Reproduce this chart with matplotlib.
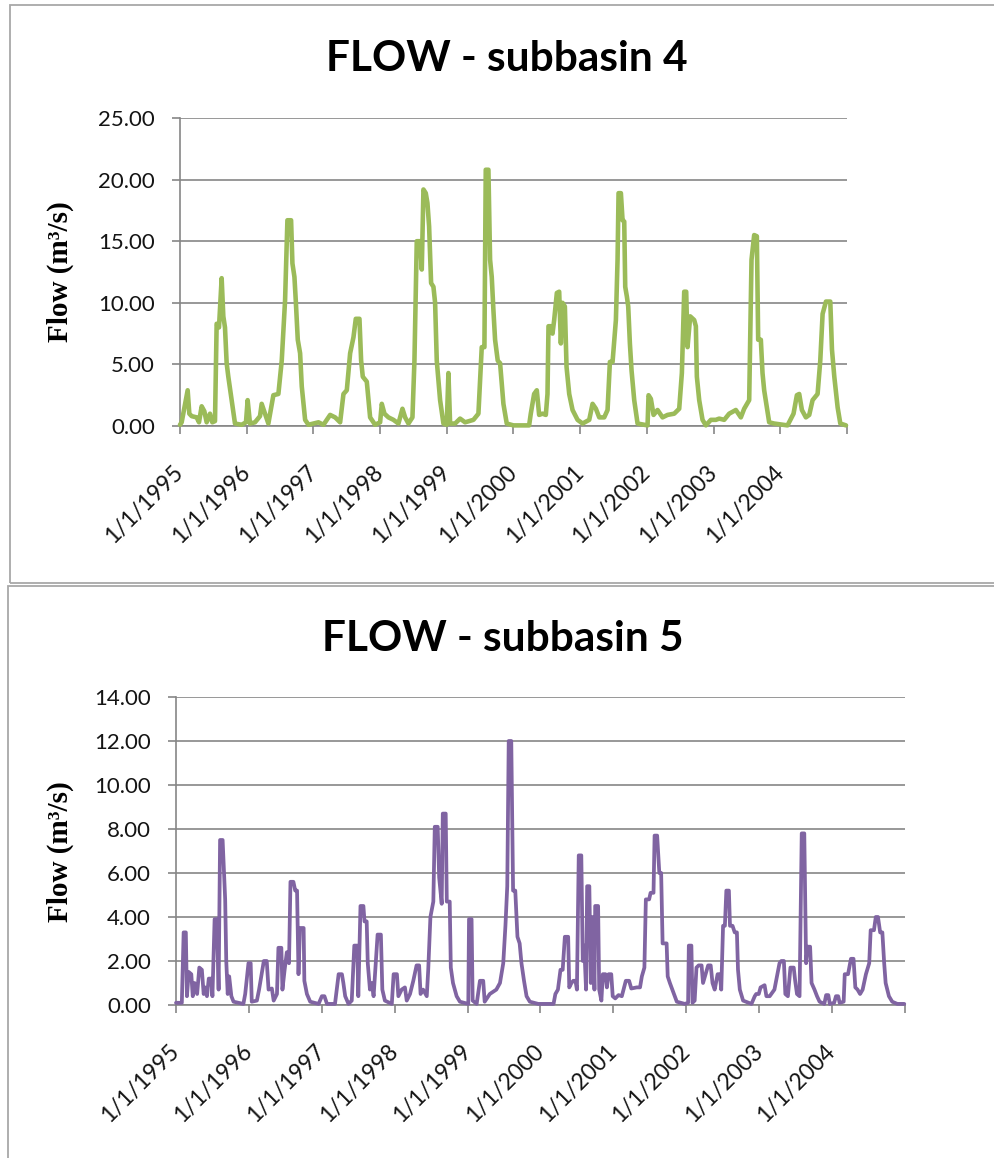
import numpy as np
import matplotlib
matplotlib.use("Agg")
import matplotlib.pyplot as plt
import matplotlib.dates as mdates
from matplotlib.ticker import FormatStrFormatter
from matplotlib.patches import Rectangle
from datetime import date

plt.rcParams["font.family"] = ["Lato", "DejaVu Sans"]

# ---- subbasin 4 flow (decimal year, m3/s) ----
t_sub4 = [
    1995.0, 1995.025, 1995.115, 1995.14, 1995.175, 1995.25, 1995.285, 1995.325, 1995.365,
    1995.40, 1995.45, 1995.485, 1995.525, 1995.55, 1995.585, 1995.625, 1995.65, 1995.675,
    1995.70, 1995.725, 1995.775, 1995.825, 1995.925, 1995.99, 1996.015, 1996.05, 1996.125,
    1996.20, 1996.225, 1996.275, 1996.325, 1996.40, 1996.475, 1996.525, 1996.575, 1996.61,
    1996.665, 1996.685, 1996.715, 1996.735, 1996.765, 1996.80, 1996.825, 1996.875, 1996.925,
    1997.075, 1997.15, 1997.25, 1997.325, 1997.40, 1997.45, 1997.50, 1997.55, 1997.60,
    1997.635, 1997.69, 1997.715, 1997.74, 1997.80, 1997.85, 1997.925, 1998.0, 1998.025,
    1998.065, 1998.125, 1998.20, 1998.275, 1998.335, 1998.375, 1998.425, 1998.485, 1998.515,
    1998.55, 1998.60, 1998.625, 1998.65, 1998.685, 1998.71, 1998.735, 1998.765, 1998.80,
    1998.825, 1998.85, 1998.90, 1998.95, 1999.0, 1999.025, 1999.05, 1999.125, 1999.20,
    1999.275, 1999.40, 1999.475, 1999.525, 1999.565, 1999.585, 1999.625, 1999.65, 1999.675,
    1999.70, 1999.725, 1999.765, 1999.80, 1999.85, 1999.90, 2000.0, 2000.235, 2000.26,
    2000.31, 2000.35, 2000.385, 2000.435, 2000.485, 2000.51, 2000.525, 2000.56, 2000.585,
    2000.61, 2000.65, 2000.685, 2000.71, 2000.735, 2000.77, 2000.795, 2000.835, 2000.885,
    2000.96, 2001.035, 2001.135, 2001.185, 2001.235, 2001.285, 2001.36, 2001.41, 2001.445,
    2001.485, 2001.535, 2001.56, 2001.575, 2001.61, 2001.635, 2001.66, 2001.675, 2001.70,
    2001.72, 2001.745, 2001.77, 2001.81, 2001.86, 2002.01, 2002.025, 2002.06, 2002.10,
    2002.16, 2002.235, 2002.31, 2002.41, 2002.485, 2002.525, 2002.56, 2002.59, 2002.61,
    2002.65, 2002.71, 2002.735, 2002.75, 2002.785, 2002.835, 2002.885, 2002.96, 2003.035,
    2003.085, 2003.16, 2003.235, 2003.335, 2003.41, 2003.46, 2003.535, 2003.57, 2003.61,
    2003.65, 2003.67, 2003.71, 2003.735, 2003.76, 2003.80, 2003.835, 2003.91, 2004.11,
    2004.20, 2004.25, 2004.285, 2004.325, 2004.385, 2004.435, 2004.485, 2004.56, 2004.60,
    2004.635, 2004.685, 2004.75, 2004.775, 2004.81, 2004.86, 2004.90, 2004.985,
]
q_sub4 = [
    0.1, 0.3, 2.9, 1.0, 0.8, 0.7, 0.3, 1.6, 1.2,
    0.3, 1.0, 0.3, 0.4, 8.3, 8.0, 12.0, 8.9, 8.0,
    5.1, 4.0, 2.1, 0.2, 0.1, 0.3, 2.1, 0.2, 0.3,
    0.8, 1.8, 1.0, 0.2, 2.5, 2.6, 5.3, 10.2, 16.7,
    16.7, 13.2, 12.1, 10.2, 7.0, 5.9, 3.2, 0.5, 0.1,
    0.3, 0.1, 0.9, 0.7, 0.3, 2.6, 2.9, 5.9, 7.2,
    8.7, 8.7, 5.3, 4.0, 3.6, 0.7, 0.1, 0.3, 1.8,
    1.0, 0.7, 0.5, 0.2, 1.4, 0.7, 0.2, 0.7, 5.3,
    15.0, 15.0, 12.7, 19.2, 18.9, 18.1, 16.2, 11.6, 11.3,
    10.0, 5.3, 2.1, 0.2, 0.1, 4.3, 0.2, 0.2, 0.6,
    0.3, 0.5, 1.0, 6.4, 6.4, 20.8, 20.8, 13.5, 12.1,
    9.4, 7.0, 5.3, 5.1, 1.8, 0.2, 0.05, 0.05, 1.0,
    2.6, 2.9, 0.9, 1.0, 0.9, 2.6, 8.1, 8.1, 7.5,
    8.6, 10.8, 10.9, 6.7, 10.0, 9.7, 4.8, 2.6, 1.3,
    0.5, 0.2, 0.5, 1.8, 1.4, 0.7, 0.7, 1.3, 5.2,
    5.2, 8.6, 13.5, 18.9, 18.9, 16.7, 16.6, 11.3, 10.5,
    9.7, 6.7, 4.5, 2.1, 0.2, 0.05, 2.5, 2.2, 0.9,
    1.3, 0.7, 0.9, 1.0, 1.4, 4.3, 10.9, 10.9, 6.4,
    8.9, 8.6, 8.1, 4.0, 2.1, 0.5, 0.05, 0.5, 0.5,
    0.6, 0.5, 1.0, 1.3, 0.7, 1.4, 2.1, 13.5, 15.5,
    15.4, 7.0, 7.0, 4.3, 2.9, 1.5, 0.3, 0.2, 0.05,
    1.0, 2.5, 2.6, 1.3, 0.7, 0.9, 2.1, 2.6, 5.3,
    9.1, 10.1, 10.1, 6.2, 4.0, 1.5, 0.2, 0.05,
]

# ---- subbasin 5 flow (decimal year, m3/s) ----
t_sub5 = [
    1995.0, 1995.08, 1995.105, 1995.135, 1995.15, 1995.175, 1995.21, 1995.23, 1995.255,
    1995.29, 1995.32, 1995.355, 1995.38, 1995.40, 1995.425, 1995.45, 1995.485, 1995.50,
    1995.53, 1995.56, 1995.585, 1995.605, 1995.64, 1995.675, 1995.69, 1995.71, 1995.73,
    1995.76, 1995.79, 1995.925, 1995.95, 1995.995, 1996.025, 1996.04, 1996.11, 1996.14,
    1996.205, 1996.245, 1996.27, 1996.315, 1996.34, 1996.385, 1996.405, 1996.445, 1996.46,
    1996.49, 1996.52, 1996.55, 1996.57, 1996.61, 1996.635, 1996.66, 1996.68, 1996.70,
    1996.75, 1996.76, 1996.795, 1996.84, 1996.955, 1997.00, 1997.035, 1997.07, 1997.18,
    1997.23, 1997.275, 1997.295, 1997.32, 1997.365, 1997.41, 1997.445, 1997.485, 1997.50,
    1997.53, 1997.57, 1997.585, 1997.615, 1997.63, 1997.66, 1997.685, 1997.71, 1997.765,
    1997.81, 1997.83, 1997.865, 1997.96, 1997.985, 1998.03, 1998.05, 1998.095, 1998.14,
    1998.165, 1998.21, 1998.255, 1998.30, 1998.335, 1998.355, 1998.39, 1998.44, 1998.46,
    1998.49, 1998.53, 1998.55, 1998.59, 1998.61, 1998.645, 1998.66, 1998.70, 1998.715,
    1998.755, 1998.77, 1998.80, 1998.85, 1998.895, 1999.01, 1999.02, 1999.055, 1999.07,
    1999.125, 1999.17, 1999.215, 1999.235, 1999.305, 1999.35, 1999.395, 1999.445, 1999.49,
    1999.52, 1999.545, 1999.565, 1999.60, 1999.625, 1999.655, 1999.685, 1999.715, 1999.74,
    1999.775, 1999.81, 1999.855, 1999.97, 2000.18, 2000.205, 2000.24, 2000.275, 2000.305,
    2000.335, 2000.38, 2000.395, 2000.425, 2000.45, 2000.48, 2000.50, 2000.525, 2000.56,
    2000.58, 2000.60, 2000.625, 2000.64, 2000.67, 2000.69, 2000.715, 2000.74, 2000.75,
    2000.79, 2000.805, 2000.835, 2000.855, 2000.89, 2000.91, 2000.935, 2000.97, 2000.99,
    2001.025, 2001.07, 2001.115, 2001.17, 2001.215, 2001.245, 2001.32, 2001.365, 2001.39,
    2001.425, 2001.445, 2001.49, 2001.51, 2001.55, 2001.565, 2001.60, 2001.63, 2001.655,
    2001.675, 2001.73, 2001.745, 2001.775, 2001.82, 2001.87, 2001.98, 2002.025, 2002.035,
    2002.07, 2002.085, 2002.115, 2002.14, 2002.17, 2002.21, 2002.23, 2002.265, 2002.30,
    2002.335, 2002.36, 2002.39, 2002.43, 2002.46, 2002.48, 2002.505, 2002.53, 2002.55,
    2002.585, 2002.60, 2002.635, 2002.665, 2002.695, 2002.71, 2002.735, 2002.78, 2002.895,
    2002.94, 2002.96, 2002.995, 2003.02, 2003.075, 2003.10, 2003.145, 2003.21, 2003.25,
    2003.28, 2003.305, 2003.34, 2003.36, 2003.395, 2003.43, 2003.475, 2003.495, 2003.52,
    2003.555, 2003.585, 2003.62, 2003.645, 2003.665, 2003.70, 2003.72, 2003.76, 2003.795,
    2003.83, 2003.895, 2003.92, 2003.95, 2003.97, 2004.03, 2004.055, 2004.085, 2004.105,
    2004.16, 2004.175, 2004.22, 2004.26, 2004.295, 2004.32, 2004.35, 2004.385, 2004.42,
    2004.465, 2004.51, 2004.53, 2004.575, 2004.60, 2004.63, 2004.66, 2004.69, 2004.715,
    2004.735, 2004.78, 2004.825, 2004.895, 2004.99,
]
q_sub5 = [
    0.1, 0.1, 3.3, 3.3, 0.4, 1.5, 1.4, 0.4, 1.0,
    0.5, 1.7, 1.6, 0.5, 0.8, 0.4, 1.2, 1.2, 0.4,
    3.9, 3.9, 0.7, 7.5, 7.5, 4.8, 2.0, 0.5, 1.3,
    0.4, 0.15, 0.05, 0.5, 1.9, 1.9, 0.15, 0.2, 0.7,
    2.0, 2.0, 0.7, 0.75, 0.2, 0.5, 2.6, 2.6, 0.7,
    1.6, 2.4, 1.9, 5.6, 5.6, 5.2, 5.2, 1.4, 3.5,
    3.5, 1.1, 0.5, 0.15, 0.05, 0.4, 0.4, 0.05, 0.05,
    1.4, 1.4, 1.0, 0.4, 0.05, 0.2, 2.7, 2.7, 0.4,
    4.5, 4.5, 3.8, 3.8, 1.9, 0.7, 1.0, 0.4, 3.2,
    3.2, 0.7, 0.2, 0.05, 1.4, 1.4, 0.4, 0.7, 0.8,
    0.2, 0.5, 1.1, 1.8, 1.8, 0.5, 0.7, 0.4, 1.6,
    4.0, 4.7, 8.1, 8.1, 5.8, 4.6, 8.7, 8.7, 4.7,
    4.7, 1.7, 1.0, 0.4, 0.15, 0.05, 3.9, 3.9, 0.2,
    0.05, 1.1, 1.1, 0.15, 0.5, 0.6, 0.7, 1.0, 1.9,
    3.6, 5.4, 12.0, 12.0, 5.2, 5.2, 3.1, 2.8, 1.9,
    1.1, 0.4, 0.15, 0.05, 0.05, 0.5, 0.7, 1.6, 1.6,
    3.1, 3.1, 0.8, 1.0, 1.1, 1.1, 0.7, 6.8, 6.8,
    2.0, 2.7, 0.7, 5.4, 5.4, 1.0, 4.0, 0.7, 4.5,
    4.5, 0.7, 0.2, 1.4, 1.4, 0.8, 1.4, 1.4, 0.4,
    0.3, 0.45, 0.4, 1.1, 1.1, 0.75, 0.8, 0.8, 1.3,
    1.7, 4.8, 4.8, 5.1, 5.1, 7.7, 7.7, 6.0, 6.0,
    2.8, 2.8, 1.3, 1.0, 0.6, 0.15, 0.05, 0.1, 2.7,
    2.7, 0.1, 0.2, 1.7, 1.8, 1.8, 1.0, 1.4, 1.8,
    1.8, 1.0, 0.7, 1.4, 1.4, 0.7, 3.6, 3.6, 5.2,
    5.2, 3.6, 3.6, 3.3, 3.3, 1.6, 0.7, 0.2, 0.05,
    0.4, 0.5, 0.5, 0.8, 0.9, 0.4, 0.4, 0.7, 1.4,
    1.9, 2.0, 2.0, 0.5, 0.4, 1.7, 1.7, 1.1, 0.5,
    0.4, 7.8, 7.8, 1.9, 2.65, 2.65, 1.0, 0.7, 0.4,
    0.15, 0.05, 0.45, 0.45, 0.05, 0.1, 0.4, 0.4, 0.1,
    0.15, 1.4, 1.4, 2.1, 2.1, 0.8, 0.7, 0.5, 0.7,
    1.4, 1.9, 3.4, 3.4, 4.0, 4.0, 3.3, 3.3, 1.9,
    1.0, 0.4, 0.15, 0.05, 0.05,
]

years = list(range(1995, 2006))
year_labels = [f"1/1/{y}" for y in years[:-1]] + [""]

W, H = 995, 1158
GRID = "#868686"
TXT = "#141414"


def frac_year_to_num(yrs):
    out = []
    for y in yrs:
        yi = int(np.floor(y + 1e-9))
        d0 = mdates.date2num(date(yi, 1, 1))
        d1 = mdates.date2num(date(yi + 1, 1, 1))
        out.append(d0 + (y - yi) * (d1 - d0))
    return np.array(out)


def px_box(left, top, right, bottom):
    return [left / W, 1 - bottom / H, (right - left) / W, (bottom - top) / H]


fig = plt.figure(figsize=(W / 100, H / 100), dpi=100)

# panel frames
fig.add_artist(Rectangle((10 / W, 1 - 583 / H), 1.2, (583 - 5) / H,
                         transform=fig.transFigure, fill=False, ec="#A8A8A8", lw=1.3))
fig.add_artist(Rectangle((8 / W, -0.05), 1.2, 0.05 + 1 - 586 / H,
                         transform=fig.transFigure, fill=False, ec="#A8A8A8", lw=1.3))


def draw_panel(rect, t, q, color, lw, ymax, ystep, title, title_xy, ylab_xy):
    ax = fig.add_axes(rect)
    ax.plot(frac_year_to_num(t), q, color=color, lw=lw,
            solid_joinstyle="round", solid_capstyle="round", clip_on=False, zorder=3)
    ax.set_ylim(0, ymax)
    ax.set_yticks(np.arange(0, ymax + ystep / 2, ystep))
    ax.yaxis.set_major_formatter(FormatStrFormatter("%.2f"))
    ticks = [mdates.date2num(date(y, 1, 1)) for y in years]
    ax.set_xlim(ticks[0], ticks[-1])
    ax.set_xticks(ticks)
    ax.set_xticklabels(year_labels)
    ax.yaxis.grid(True, color=GRID, lw=1.2)
    ax.set_axisbelow(True)
    for s in ("top", "right"):
        ax.spines[s].set_visible(False)
    for s in ("left", "bottom"):
        ax.spines[s].set_color(GRID)
        ax.spines[s].set_linewidth(1.2)
    ax.tick_params(axis="both", direction="out", length=6, width=1.2, color=GRID,
                   labelsize=16, labelcolor=TXT)
    ax.tick_params(axis="y", pad=12)
    ax.tick_params(axis="x", pad=25, labelsize=16.5)
    for lab in ax.get_xticklabels():
        lab.set_rotation(45)
        lab.set_ha("right")
        lab.set_va("center")
        lab.set_rotation_mode("anchor")
    fig.text(title_xy[0] / W, 1 - title_xy[1] / H, title, fontsize=30.5,
             fontweight="bold", ha="center", va="baseline", color="#000000")
    fig.text(ylab_xy[0] / W, 1 - ylab_xy[1] / H, "Flow (m³/s)", rotation=90,
             family=["Liberation Serif", "DejaVu Serif"], fontweight="bold",
             fontsize=21, ha="center", va="center", color="#000000")
    return ax


draw_panel(px_box(180, 118, 847, 426), t_sub4, q_sub4, "#9BBB59", 3.3,
           25, 5, "FLOW - subbasin 4", (507, 71), (60, 272))
draw_panel(px_box(176, 697, 905, 1005), t_sub5, q_sub5, "#8064A2", 2.7,
           14, 2, "FLOW - subbasin 5", (503, 651), (60, 852))

fig.savefig("out.png", dpi=100, facecolor="white")
